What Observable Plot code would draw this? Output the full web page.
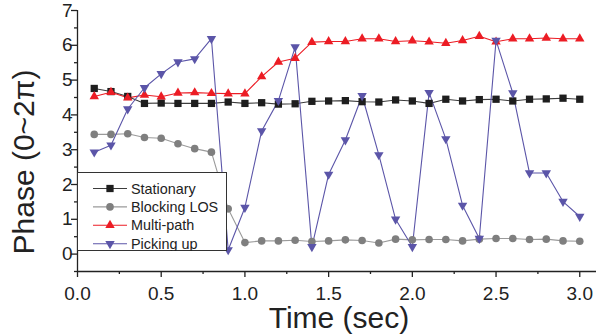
<!DOCTYPE html>
<html>
<head>
<meta charset="utf-8">
<script src="https://cdn.jsdelivr.net/npm/d3@7"></script>
<script src="https://cdn.jsdelivr.net/npm/@observablehq/plot@0.6"></script>
<style>
  html, body { margin: 0; padding: 0; background: #fff; }
  #wrap { position: relative; width: 596px; height: 336px; overflow: hidden; font-family: "Liberation Sans", Arial, sans-serif; }
  #legend { position: absolute; left: 77px; top: 172px; }
</style>
</head>
<body>
<div id="wrap"></div>
<script>
// ---- data ----
const time = [0.1,0.2,0.3,0.4,0.5,0.6,0.7,0.8,0.9,1.0,1.1,1.2,1.3,1.4,1.5,1.6,1.7,1.8,1.9,2.0,2.1,2.2,2.3,2.4,2.5,2.6,2.7,2.8,2.9,3.0];
const stationary = [4.76,4.67,4.53,4.33,4.34,4.33,4.33,4.33,4.37,4.33,4.35,4.31,4.32,4.39,4.40,4.41,4.38,4.37,4.43,4.40,4.33,4.45,4.40,4.44,4.45,4.40,4.45,4.46,4.48,4.45];
const blockingLOS = [3.44,3.44,3.46,3.35,3.33,3.17,3.03,2.93,1.30,0.33,0.38,0.38,0.40,0.36,0.38,0.41,0.39,0.32,0.43,0.41,0.42,0.42,0.38,0.43,0.45,0.45,0.42,0.43,0.38,0.37];
const multiPath = [4.53,4.65,4.49,4.57,4.52,4.63,4.64,4.62,4.61,4.61,5.10,5.52,5.63,6.09,6.11,6.11,6.19,6.19,6.11,6.13,6.10,6.06,6.14,6.26,6.10,6.19,6.19,6.21,6.19,6.19];
const pickingUp = [2.93,3.13,4.17,4.78,5.18,5.52,5.61,6.19,0.12,1.34,3.54,4.41,5.95,0.21,2.29,3.28,4.55,2.85,1.00,0.21,4.64,3.31,1.40,0.45,6.14,4.63,2.33,2.33,1.51,1.08];
const seriesNames = ["Stationary","Blocking LOS","Multi-path","Picking up"];
const xMajor = [0,0.5,1.0,1.5,2.0,2.5,3.0];
const xMinor = [0.25,0.75,1.25,1.75,2.25,2.75];
const yMajor = [0,1,2,3,4,5,6,7];
const yMinor = [-0.5,0.5,1.5,2.5,3.5,4.5,5.5,6.5];
const xLabel = "Time (sec)";
const yLabel = "Phase (0~2\u03C0)";

// ---- styles ----
const triDown = {
  draw(ctx, size) {
    const y = -Math.sqrt(size / (Math.sqrt(3) * 3));
    ctx.moveTo(0, -y * 2);
    ctx.lineTo(-Math.sqrt(3) * y, y);
    ctx.lineTo(Math.sqrt(3) * y, y);
    ctx.closePath();
  }
};
const styles = [
  {line: "#3c3c3c", fill: "#1e1e1e", symbol: "square", r: 4.1},
  {line: "#9a9a9a", fill: "#7f7f7f", symbol: "circle", r: 3.8},
  {line: "#ec1c24", fill: "#ec1c24", symbol: "triangle", r: 3.5},
  {line: "#5b55a8", fill: "#5b55a8", symbol: triDown, r: 3.5}
];
const allSeries = [stationary, blockingLOS, multiPath, pickingUp];
const tables = allSeries.map((vals) => time.map((t, i) => ({t, v: vals[i]})));

const font = "Liberation Sans, Arial, sans-serif";
const ink = "#222";

const marks = [];
tables.forEach((tb, k) => {
  const s = styles[k];
  marks.push(Plot.line(tb, {x: "t", y: "v", stroke: s.line, strokeWidth: 1.1}));
});
tables.forEach((tb, k) => {
  const s = styles[k];
  marks.push(Plot.dot(tb, {x: "t", y: "v", symbol: () => s.symbol, r: s.r, fill: s.fill, stroke: "none"}));
});

const chart = Plot.plot({
  width: 596,
  height: 336,
  marginLeft: 77,
  marginRight: 0,
  marginTop: 10,
  marginBottom: 65,
  x: {domain: [0, 3.1]},
  y: {domain: [-0.5, 7]},
  symbol: {type: "identity"},
  style: {fontFamily: font, color: ink, background: "white", overflow: "visible"},
  marks: [
    ...marks,
    Plot.ruleX([0], {stroke: ink, strokeWidth: 1.3}),
    Plot.ruleY([-0.5], {stroke: ink, strokeWidth: 1.3}),
    Plot.axisY({ticks: yMajor, tickSize: 6, tickPadding: -1, fontSize: 19, tickFormat: (d) => String(d), label: null, stroke: ink, strokeWidth: 1.3, fill: ink}),
    Plot.axisY({ticks: yMinor, tickSize: 3, tickFormat: () => "", label: null, stroke: ink, strokeWidth: 1.3}),
    Plot.axisX({ticks: xMajor, tickSize: 6, tickPadding: 9, fontSize: 19, tickFormat: d3.format(".1f"), label: null, stroke: ink, strokeWidth: 1.3, fill: ink}),
    Plot.axisX({ticks: xMinor, tickSize: 3, tickFormat: () => "", label: null, stroke: ink, strokeWidth: 1.3}),
    Plot.text([xLabel], {frameAnchor: "bottom", textAnchor: "middle", lineAnchor: "bottom", dy: 56, dx: 2, fontSize: 30, fill: ink}),
    Plot.text([yLabel], {frameAnchor: "left", textAnchor: "middle", lineAnchor: "bottom", rotate: -90, dx: -43.5, dy: 21, fontSize: 30, fill: ink})
  ]
});
document.getElementById("wrap").appendChild(chart);

// ---- legend (overlay, white box) ----
const lw = 150, lh = 79;
const leg = d3.select("#wrap").append("svg")
  .attr("id", "legend").attr("width", lw).attr("height", lh);
leg.append("rect").attr("x", 0.5).attr("y", 0.5).attr("width", lw - 1).attr("height", lh - 1)
  .attr("fill", "white").attr("stroke", "#333").attr("stroke-width", 1);
seriesNames.forEach((name, k) => {
  const s = styles[k];
  const cy = 16.5 + k * 18.4;
  const g = leg.append("g");
  g.append("line").attr("x1", 16).attr("x2", 50).attr("y1", cy).attr("y2", cy)
    .attr("stroke", s.line).attr("stroke-width", 1.1);
  const sym = s.symbol === "square" ? d3.symbolSquare : s.symbol === "circle" ? d3.symbolCircle : s.symbol === "triangle" ? d3.symbolTriangle : triDown;
  g.append("path").attr("transform", `translate(33,${cy})`)
    .attr("d", d3.symbol(sym, Math.PI * s.r * s.r)()).attr("fill", s.fill);
  g.append("text").attr("x", 54).attr("y", cy + 5).attr("font-size", 14.4)
    .attr("font-family", font).attr("fill", ink).text(name);
});
</script>
</body>
</html>
